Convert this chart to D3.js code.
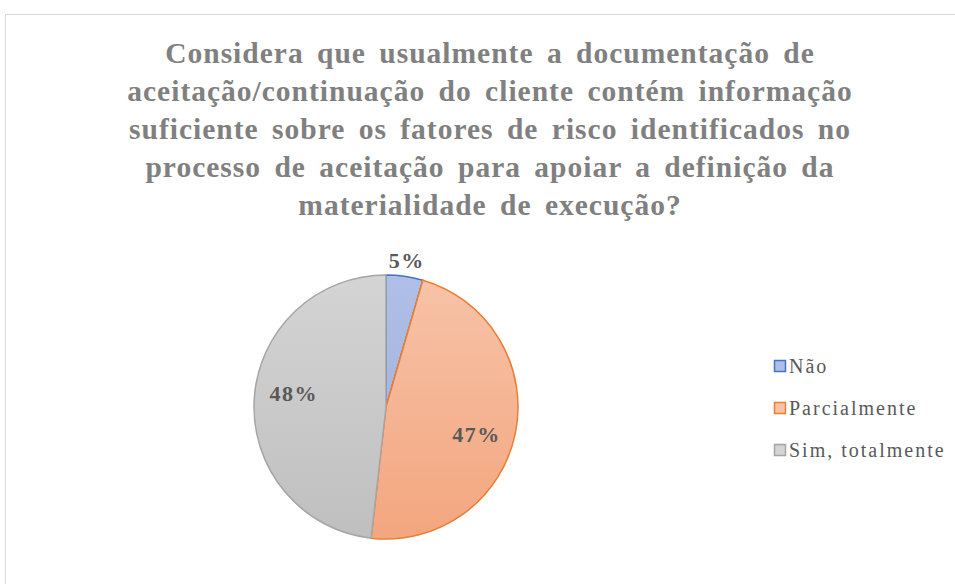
<!DOCTYPE html>
<html>
<head>
<meta charset="utf-8">
<script src="https://cdn.jsdelivr.net/npm/d3@7"></script>
<style>
  body { margin: 0; background: #fff; }
  text { font-family: "Liberation Serif", "Times New Roman", serif; }
</style>
</head>
<body>
<div id="chart"></div>
<script>
const titleLines = [
  'Considera que usualmente a documentação de',
  'aceitação/continuação do cliente contém informação',
  'suficiente sobre os fatores de risco identificados no',
  'processo de aceitação para apoiar a definição da',
  'materialidade de execução?'
];
const categories = ['Não', 'Parcialmente', 'Sim, totalmente'];
const values = [4.5, 47.3, 48.2];
const fills = [['#b0bfe6', '#9badd9'], ['#f7c3a8', '#f3a67f'], ['#d4d4d4', '#bfbfbf']];
const strokes = ['#4472c4', '#ed7d31', '#a5a5a5'];

const width = 955, height = 584;
const cx = 386, cy = 407, radius = 132;

const svg = d3.select('#chart').append('svg')
  .attr('width', width)
  .attr('height', height);

// chart frame
svg.append('rect')
  .attr('x', 5.5).attr('y', 14.5)
  .attr('width', 1000).attr('height', 1000)
  .attr('fill', '#fff')
  .attr('stroke', '#d9d9d9');

const defs = svg.append('defs');
fills.forEach((f, i) => {
  const g = defs.append('linearGradient')
    .attr('id', 'grad' + i)
    .attr('gradientUnits', 'userSpaceOnUse')
    .attr('x1', 0).attr('y1', -radius).attr('x2', 0).attr('y2', radius);
  g.append('stop').attr('offset', '0%').attr('stop-color', f[0]);
  g.append('stop').attr('offset', '100%').attr('stop-color', f[1]);
});

// title
svg.append('g')
  .selectAll('text')
  .data(titleLines)
  .enter()
  .append('text')
  .attr('x', 490)
  .attr('y', (d, i) => 63 + i * 38)
  .attr('text-anchor', 'middle')
  .attr('font-size', '29.5px')
  .attr('font-weight', 'bold')
  .attr('letter-spacing', '1px')
  .attr('word-spacing', '5px')
  .attr('fill', '#808080')
  .text(d => d);

const pie = d3.pie().sort(null).value(d => d);
const arc = d3.arc().innerRadius(0).outerRadius(radius);
const arcs = pie(values);

const g = svg.append('g')
  .attr('transform', 'translate(' + cx + ',' + cy + ')');

g.selectAll('.slice')
  .data(arcs)
  .enter()
  .append('path')
  .attr('class', 'slice')
  .attr('d', arc)
  .attr('fill', (d, i) => 'url(#grad' + i + ')')
  .attr('stroke', (d, i) => strokes[i])
  .attr('stroke-width', 1.5);

// data labels
const labelArc = d3.arc().innerRadius(radius * 0.7).outerRadius(radius * 0.7);
const outerArc = d3.arc().innerRadius(radius + 16).outerRadius(radius + 16);

g.selectAll('.label')
  .data(arcs)
  .enter()
  .append('text')
  .attr('class', 'label')
  .attr('transform', d => {
    const c = d.value < 10 ? outerArc.centroid(d) : labelArc.centroid(d);
    return 'translate(' + c[0] + ',' + c[1] + ')';
  })
  .attr('dy', d => d.value < 10 ? '0.35em' : (d.index === 1 ? '0.75em' : '-0.05em'))
  .attr('text-anchor', 'middle')
  .attr('font-size', '22px')
  .attr('font-weight', 'bold')
  .attr('letter-spacing', '1.5px')
  .attr('fill', '#595959')
  .text(d => Math.round(d.value) + '%');

// legend
const legend = svg.append('g')
  .attr('transform', 'translate(774,366)');

const item = legend.selectAll('.item')
  .data(categories)
  .enter()
  .append('g')
  .attr('class', 'item')
  .attr('transform', (d, i) => 'translate(0,' + i * 42 + ')');

item.append('rect')
  .attr('x', 0.5).attr('y', -5.5)
  .attr('width', 11).attr('height', 11)
  .attr('fill', (d, i) => fills[i][0])
  .attr('stroke', (d, i) => strokes[i])
  .attr('stroke-width', 1.5);

item.append('text')
  .attr('x', 15)
  .attr('dy', '0.35em')
  .attr('font-size', '20px')
  .attr('letter-spacing', '2px')
  .attr('fill', '#595959')
  .text(d => d);
</script>
</body>
</html>
